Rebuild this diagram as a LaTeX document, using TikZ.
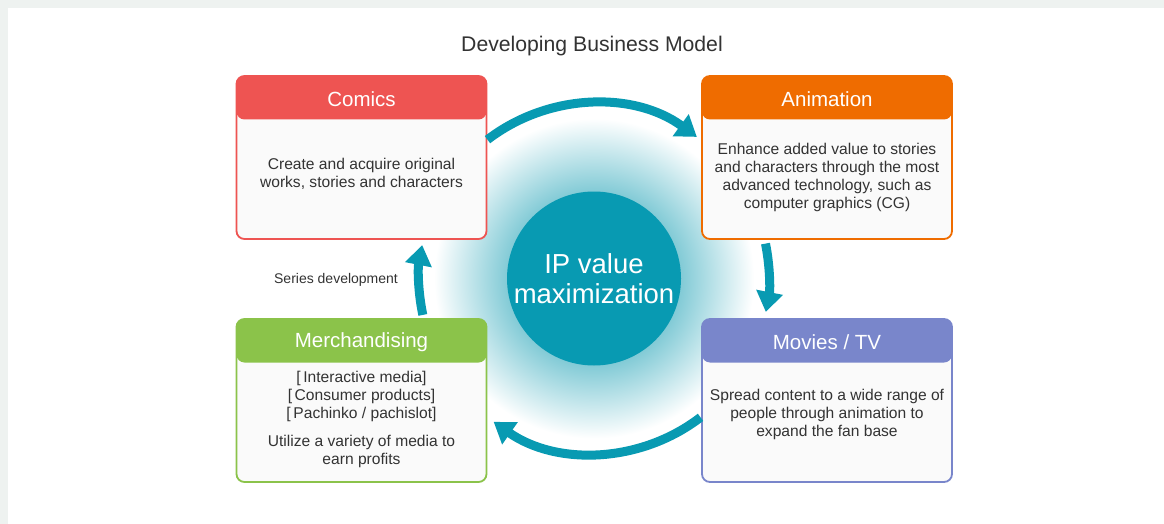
\documentclass[tikz,border=0pt]{standalone}
\usepackage{fontspec}
\setmainfont{Liberation Sans}
\usetikzlibrary{arrows.meta}

\definecolor{pagegray}{HTML}{EEF2F0}
\definecolor{cardbg}{HTML}{FAFAFA}
\definecolor{textgray}{HTML}{333333}
\definecolor{comicsred}{HTML}{EE5452}
\definecolor{animorange}{HTML}{EF6C00}
\definecolor{merchgreen}{HTML}{8BC34A}
\definecolor{moviesblue}{HTML}{7986CB}
\definecolor{ipteal}{HTML}{089AB2}
\definecolor{glowteal}{HTML}{7CC8D4}

\pgfdeclareradialshading{ipglow}{\pgfpoint{0bp}{0bp}}{%
	color(0bp)=(glowteal); color(13bp)=(glowteal); color(25bp)=(white); color(50bp)=(white)}

\begin{document}
\begin{tikzpicture}[x=1pt,y=-1pt,
	card/.style={draw=#1, line width=1.8pt, fill=cardbg, rounded corners=8pt,
		minimum width=250pt, minimum height=163pt, inner sep=0pt,
		path picture={\fill[#1] (path picture bounding box.north west) rectangle
			([yshift=-43.5pt]path picture bounding box.north east);}},
	headtext/.style={text=white, font=\fontsize{20.5}{24}\selectfont},
	bodytext/.style={text=textgray, align=center, font=\fontsize{15.6}{17.8}\selectfont},
	cycle arrow/.style={draw=ipteal, line width=9pt, -{Triangle[width=26pt,length=20pt]}}]

	% Page
	\fill[pagegray] (0,0) rectangle (1164,524);
	\fill[white] (8,8) rectangle (1164,524);
	\useasboundingbox (0,0) rectangle (1164,524);

	% Title
	\node[text=textgray, font=\fontsize{21.2}{24}\selectfont] (title) at (592,46.5) {Developing Business Model};

	% Centre with glow
	\coordinate (mid) at (594,278.5);
	\shade[shading=ipglow] (mid) circle[radius=160pt];
	\node[circle, fill=ipteal, minimum size=174pt, inner sep=0pt, text=white, align=center,
		font=\fontsize{27.5}{29.5}\selectfont] (ip) at (mid) {IP value\\maximization};

	% Cards
	\node[card=comicsred]  (comics) at (361.5,157.5) {};
	\node[card=animorange] (anim)   at (827,157.5) {};
	\node[card=merchgreen] (merch)  at (361.5,400.5) {};
	\node[card=moviesblue] (movies) at (827,400.5) {};

	% Card titles
	\node[headtext] (comics-title) at ([yshift=-24pt]comics.north) {Comics};
	\node[headtext] (anim-title)   at ([yshift=-24pt]anim.north) {Animation};
	\node[headtext] (merch-title)  at ([yshift=-24pt]merch.north) {Merchandising};
	\node[headtext] (movies-title) at ([yshift=-24pt]movies.north) {Movies / TV};

	% Card texts
	\node[bodytext] (comics-text) at ([yshift=-16pt]comics.center)
		{Create and acquire original\\works, stories and characters};
	\node[bodytext] (anim-text) at ([yshift=-20pt]anim.center)
		{Enhance added value to stories\\and characters through the most\\advanced technology, such as\\computer graphics (CG)};
	\node[bodytext] (merch-text) at ([yshift=-19pt]merch.center)
		{{[}\,Interactive media]\\{[}\,Consumer products]\\{[}\,Pachinko / pachislot]\\[11pt]Utilize a variety of media to\\earn profits};
	\node[bodytext] (movies-text) at ([yshift=-14pt]movies.center)
		{Spread content to a wide range of\\people through animation to\\expand the fan base};

	% Cycle arrows
	\draw[cycle arrow] (mid) ++(127.5:175pt) arc[start angle=127.5, end angle=54, radius=175pt];
	\draw[cycle arrow] (mid) ++(11.5:175pt) arc[start angle=11.5, end angle=-11, radius=175pt];
	\draw[cycle arrow] (mid) ++(-52.5:175pt) arc[start angle=-52.5, end angle=-125, radius=175pt];
	\draw[cycle arrow] (mid) ++(192:175pt) arc[start angle=192, end angle=169, radius=175pt];

	% Loop label
	\node[text=textgray, font=\fontsize{14}{16}\selectfont] (series) at (336,280) {Series development};
\end{tikzpicture}
\end{document}
